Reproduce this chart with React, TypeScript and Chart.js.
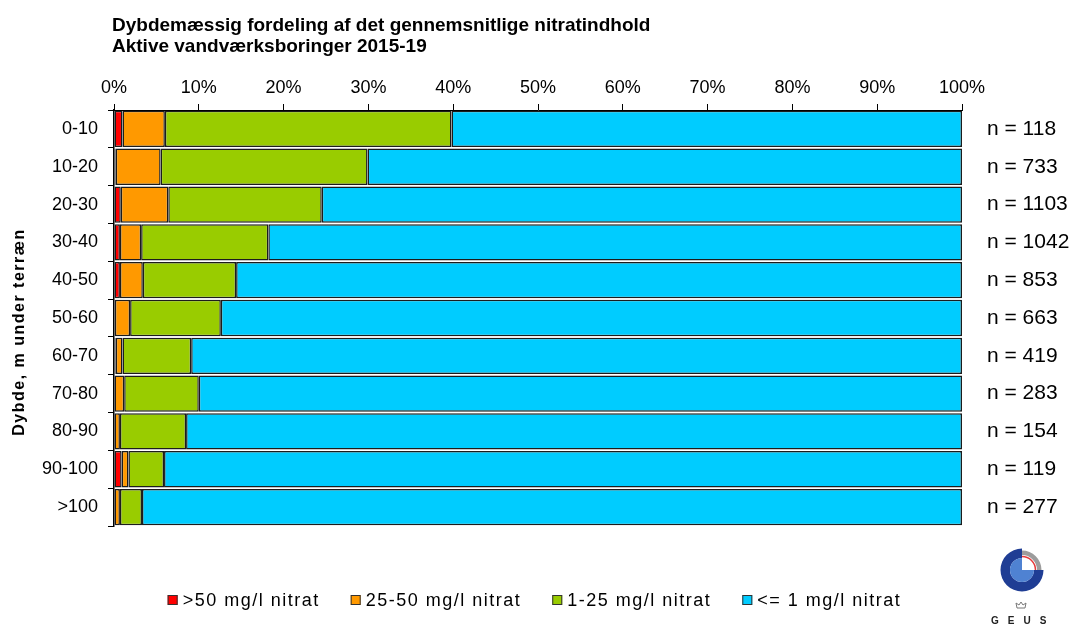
import React, { useEffect, useRef } from 'react';
import { Chart, registerables } from 'chart.js';

Chart.register(...registerables);

const FONT = "'Liberation Sans', Arial, Helvetica, sans-serif";

const titleLines = [
  'Dybdemæssig fordeling af det gennemsnitlige nitratindhold',
  'Aktive vandværksboringer 2015-19',
];
const yAxisTitle = 'Dybde, m under terræn';

const categories = ['0-10', '10-20', '20-30', '30-40', '40-50', '50-60', '60-70', '70-80', '80-90', '90-100', '>100'];
const nLabels = ['n = 118', 'n = 733', 'n = 1103', 'n = 1042', 'n = 853', 'n = 663', 'n = 419', 'n = 283', 'n = 154', 'n = 119', 'n = 277'];
const xTickLabels = ['0%', '10%', '20%', '30%', '40%', '50%', '60%', '70%', '80%', '90%', '100%'];

const seriesNames = ['>50 mg/l nitrat', '25-50 mg/l nitrat', '1-25 mg/l nitrat', '<= 1 mg/l nitrat'];
const seriesColors = ['#FF0000', '#FF9900', '#99CC00', '#00CCFF'];

const over50 = [1.0, 0.2, 0.8, 0.7, 0.7, 0.1, 0.2, 0.0, 0.0, 0.9, 0.0];
const from25to50 = [5.0, 5.3, 5.6, 2.5, 2.7, 1.8, 0.8, 1.2, 0.7, 0.8, 0.7];
const from1to25 = [33.8, 24.4, 18.1, 15.0, 11.0, 10.7, 8.1, 8.8, 7.8, 4.2, 2.6];
const upTo1 = [60.2, 70.1, 75.5, 81.8, 85.6, 87.4, 90.9, 90.0, 91.5, 94.1, 96.7];

const seriesData = [over50, from25to50, from1to25, upTo1];

const decorPlugin = {
  id: 'decor',
  afterDraw(chart: any) {
    const ctx = chart.ctx as CanvasRenderingContext2D;
    const ca = chart.chartArea;
    ctx.save();

    // Title
    ctx.fillStyle = '#000';
    ctx.font = `bold 19px ${FONT}`;
    ctx.textAlign = 'left';
    ctx.textBaseline = 'alphabetic';
    titleLines.forEach((t, i) => ctx.fillText(t, ca.left - 2, 31 + i * 20.5));

    // Y axis title
    ctx.save();
    ctx.translate(20, (ca.top + ca.bottom) / 2 + 14);
    ctx.rotate(-Math.PI / 2);
    ctx.font = `bold 16px ${FONT}`;
    (ctx as any).letterSpacing = '1.5px';
    ctx.textAlign = 'center';
    ctx.textBaseline = 'middle';
    ctx.fillText(yAxisTitle, 0, 0);
    ctx.restore();

    // Legend
    ctx.save();
    ctx.font = `18px ${FONT}`;
    (ctx as any).letterSpacing = '1.5px';
    const ds = chart.data.datasets;
    const gap = 31;
    const widths = ds.map((d: any) => 15 + ctx.measureText(d.label).width);
    const total = widths.reduce((a: number, b: number) => a + b, 0) + gap * (ds.length - 1);
    let x = chart.width / 2 - 2 - total / 2;
    const y = 600;
    ds.forEach((d: any, i: number) => {
      ctx.fillStyle = d.backgroundColor;
      ctx.fillRect(x, y - 5, 10, 10);
      ctx.strokeStyle = '#333';
      ctx.lineWidth = 1;
      ctx.strokeRect(x + 0.5, y - 4.5, 9, 9);
      ctx.fillStyle = '#000';
      ctx.textAlign = 'left';
      ctx.textBaseline = 'middle';
      ctx.fillText(d.label, x + 15, y + 1);
      x += widths[i] + gap;
    });
    ctx.restore();

    // GEUS logo
    const cx = 1022;
    const cy = 570;
    ctx.beginPath();
    ctx.arc(cx, cy, 21.5, 0, 1.5 * Math.PI);
    ctx.arc(cx, cy, 12, 1.5 * Math.PI, 0, true);
    ctx.closePath();
    ctx.fillStyle = '#1f3d94';
    ctx.fill();
    ctx.beginPath();
    ctx.moveTo(cx, cy);
    ctx.arc(cx, cy, 12, 0, 1.5 * Math.PI);
    ctx.closePath();
    ctx.fillStyle = '#4f82d2';
    ctx.fill();
    ctx.beginPath();
    ctx.arc(cx, cy, 19.5, 1.5 * Math.PI, 2 * Math.PI);
    ctx.arc(cx, cy, 15, 2 * Math.PI, 1.5 * Math.PI, true);
    ctx.closePath();
    ctx.fillStyle = '#9c9c9c';
    ctx.fill();
    ctx.beginPath();
    ctx.arc(cx, cy, 13.5, 1.5 * Math.PI, 2 * Math.PI);
    ctx.strokeStyle = '#e53b3b';
    ctx.lineWidth = 1.5;
    ctx.stroke();

    // crown
    ctx.beginPath();
    const kx = 1021;
    const ky = 605;
    ctx.moveTo(kx - 4, ky + 3);
    ctx.lineTo(kx - 5, ky - 2);
    ctx.lineTo(kx - 2, ky);
    ctx.lineTo(kx, ky - 3);
    ctx.lineTo(kx + 2, ky);
    ctx.lineTo(kx + 5, ky - 2);
    ctx.lineTo(kx + 4, ky + 3);
    ctx.closePath();
    ctx.strokeStyle = '#777';
    ctx.lineWidth = 1;
    ctx.stroke();

    ctx.font = `bold 10px ${FONT}`;
    (ctx as any).letterSpacing = '9px';
    ctx.fillStyle = '#222';
    ctx.textAlign = 'left';
    ctx.textBaseline = 'middle';
    ctx.fillText('GEUS', 991, 621.5);

    ctx.restore();
  },
};

export default function App() {
  const canvasRef = useRef<HTMLCanvasElement | null>(null);

  useEffect(() => {
    const canvas = canvasRef.current;
    if (!canvas) return;
    Chart.defaults.font.family = FONT;
    const chart = new Chart(canvas, {
      type: 'bar',
      data: {
        labels: categories,
        datasets: seriesNames.map((name, i) => ({
          label: name,
          data: seriesData[i],
          backgroundColor: seriesColors[i],
          borderColor: '#1c1c1c',
          borderWidth: 1.5,
          borderSkipped: false,
          barPercentage: 0.96,
          categoryPercentage: 1,
        })),
      },
      options: {
        responsive: false,
        animation: false,
        indexAxis: 'y',
        layout: { padding: { top: 60, bottom: 100, left: 0, right: 0 } },
        plugins: {
          legend: { display: false },
          title: { display: false },
          tooltip: { enabled: false },
        },
        scales: {
          x: {
            type: 'linear',
            position: 'top',
            stacked: true,
            min: 0,
            max: 100,
            ticks: {
              stepSize: 10,
              autoSkip: false,
              maxRotation: 0,
              color: '#000',
              font: { size: 18 },
              padding: 5,
              callback: (_v: any, i: number) => xTickLabels[i],
            },
            grid: { drawOnChartArea: false, tickLength: 6, color: '#000' },
            border: { color: '#000', width: 1 },
            afterFit: (s: any) => {
              s.height = 50;
            },
          },
          y: {
            type: 'category',
            position: 'left',
            stacked: true,
            offset: true,
            ticks: { color: '#000', font: { size: 18 }, padding: 10 },
            grid: { drawOnChartArea: false, tickLength: 6, color: '#000', offset: true },
            border: { color: '#000', width: 1.5 },
            afterFit: (s: any) => {
              s.width = 114;
            },
          },
          y2: {
            type: 'category',
            position: 'right',
            labels: nLabels,
            offset: true,
            ticks: { color: '#000', font: { size: 21 }, padding: 25 },
            grid: { display: false, drawTicks: false },
            border: { display: false },
            afterFit: (s: any) => {
              s.width = 111;
            },
          },
        },
      } as any,
      plugins: [decorPlugin],
    });
    return () => chart.destroy();
  }, []);

  return (
    <div style={{ position: 'fixed', left: 0, top: 0, width: 1073, height: 626, background: '#fff' }}>
      <canvas ref={canvasRef} width={1073} height={626} style={{ display: 'block' }} />
    </div>
  );
}
